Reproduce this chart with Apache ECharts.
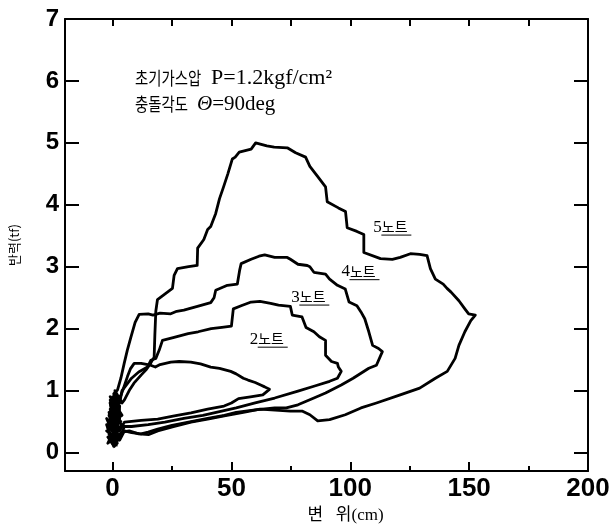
<!DOCTYPE html>
<html><head><meta charset="utf-8">
<script src="https://cdn.jsdelivr.net/npm/echarts@6/dist/echarts.min.js"></script>
<style>html,body{margin:0;padding:0;background:#fff}#c{width:613px;height:529px}</style>
</head><body><div id="c"></div>
<script>
// axis ticks
const xLabelVals = [0, 50, 100, 150, 200];
const xMajorTicks = [0, 50, 100, 150];
const xMinorTicks = [25, 75, 125, 175];
const xTopTicks = [0, 25, 50, 75, 100, 125, 150, 175];
const yLabelVals = [0, 1, 2, 3, 4, 5, 6, 7];
const yTicks = [0, 1, 2, 3, 4, 5, 6];

// 2노트
const c2x = [0.5,-1.5,1,-1,2,0.5,3.5,4.9,6.3,7.5,9.1,12,16,18,20,24.5,28,32.9,37,41.3,45,49.7,52,55,57,60,62.3,64,66,
  63.2,58,53,50,46.9,40,33,26,19,12,5,3,-2,4,-1,3,1.5];
const c2y = [0.1,0.3,0.25,0.55,0.6,0.8,0.92,1.07,1.23,1.35,1.44,1.44,1.41,1.38,1.42,1.46,1.47,1.46,1.43,1.38,1.36,1.31,1.27,1.2,1.17,1.13,1.09,1.06,1.02,
  0.93,0.9,0.87,0.8,0.75,0.7,0.64,0.59,0.54,0.52,0.49,0.35,0.45,0.6,0.9,0.75,0.1];
// 3노트
const c3x = [0.5,-2,1,-1.5,2,0,3,4,6,8,11,14.7,16.1,18.2,19.6,21,25.9,31.8,36,41.5,46,50,50.8,54.1,58.3,62,66.5,69.8,74.8,75.6,79.7,81.4,84.7,87,89.6,89.6,92.1,94.6,95,96.2,
  94.6,91.3,84.7,78,68.2,60,52,45,38,30,22,15,8,5,2.5,-2.5,3.5,-1,2,0];
const c3y = [0.15,0.4,0.35,0.65,0.55,0.9,0.8,1.0,1.1,1.2,1.3,1.38,1.49,1.52,1.65,1.81,1.86,1.92,1.95,2.0,2.02,2.04,2.32,2.37,2.43,2.44,2.41,2.38,2.36,2.22,2.19,2.02,1.95,1.87,1.81,1.57,1.47,1.44,1.38,1.31,
  1.2,1.15,1.07,0.99,0.88,0.8,0.72,0.66,0.6,0.55,0.49,0.45,0.42,0.42,0.2,0.35,0.5,0.7,0.3,0.15];
// 4노트
const c4x = [0,-2.5,1.5,-1,2,0.5,2.1,3.5,4.9,6.2,7.7,9.5,11.2,15,17,20,24.5,27,30,35.7,41.3,42.7,43.4,48.3,52.5,53.5,54.1,58.3,61.6,64,68.2,73.5,74.8,78,81.9,83,84.7,89.6,91.3,94.6,97.9,99.5,102.8,104.5,106.1,107.8,109.4,111.9,113.5,
  111,107.8,101.2,96.2,89.6,84.7,78,73.1,68.2,60,52,47,40,33,25,19,15,12,8,5,3,-1.5,4,-0.5,1];
const c4y = [0.2,0.45,0.3,0.8,0.65,0.95,1.01,1.2,1.44,1.65,1.86,2.1,2.23,2.24,2.22,2.25,2.24,2.28,2.3,2.36,2.42,2.5,2.62,2.7,2.72,2.95,3.05,3.12,3.17,3.19,3.15,3.15,3.12,3.04,3.02,3.0,2.91,2.88,2.8,2.7,2.64,2.43,2.37,2.27,2.16,1.95,1.73,1.68,1.63,
  1.41,1.36,1.2,1.09,0.96,0.88,0.77,0.72,0.72,0.69,0.65,0.6,0.55,0.5,0.44,0.38,0.33,0.3,0.32,0.35,0.2,0.6,0.45,0.25,0.1];
// 5노트
const c5x = [1,-2,2,-2.5,1.5,-1,3,1,4,5,7,9,12,14,16,17.5,17.8,18.2,18.9,21.7,25.2,25.9,27.3,32,35.6,35.8,38.4,40,41.3,43.4,45,46.7,48.5,50.4,51.6,53.3,58.3,60.2,64.9,68,73.5,77,81.2,83,86,89.6,90.3,95,98,98.7,102.8,105.7,105.7,112.7,117.7,121,125.3,129.2,132.3,133.7,135.8,139.1,140.7,142.4,145.7,148.2,149.8,152.6,
  150.7,148.2,145.7,144.1,140.8,135.8,129.2,121,111,104.5,97.9,91.3,86.3,83,79.7,74.8,70,62,55,47,40,33,26,19,15.3,11,7,4,-2,3,-1,2,0.5];
const c5y = [0.08,0.25,0.15,0.55,0.4,0.8,0.65,1.0,0.8,0.85,1.0,1.12,1.25,1.33,1.44,1.54,1.9,2.28,2.47,2.55,2.65,2.86,2.97,3.0,3.02,3.3,3.44,3.6,3.65,3.86,4.1,4.29,4.5,4.74,4.77,4.85,4.9,5.0,4.95,4.93,4.92,4.84,4.77,4.62,4.47,4.29,4.05,3.95,3.89,3.63,3.57,3.52,3.23,3.13,3.12,3.15,3.21,3.2,3.18,2.97,2.8,2.72,2.65,2.59,2.45,2.32,2.24,2.22,
  2.13,1.95,1.73,1.52,1.31,1.2,1.04,0.93,0.8,0.72,0.61,0.53,0.51,0.61,0.67,0.67,0.68,0.7,0.65,0.59,0.54,0.49,0.42,0.35,0.29,0.3,0.35,0.33,0.15,0.55,0.85,0.4,0.08];

// curve annotations
const noteNum = ['2', '3', '4', '5'];
const noteX = [65.7, 83.2, 104.3, 117.7];
const noteY = [1.83, 2.51, 2.92, 3.64];

const curvesX = [c2x, c3x, c4x, c5x];
const curvesY = [c2y, c3y, c4y, c5y];

const chart = echarts.init(document.getElementById('c'), null, {renderer: 'canvas'});
const black = '#000';
const series = curvesX.map((xs, k) => ({
  type: 'line',
  name: noteNum[k] + '노트',
  data: xs.map((x, i) => [x, curvesY[k][i]]),
  showSymbol: false,
  smooth: false,
  lineStyle: {color: black, width: 2.8, join: 'round'},
  animation: false
}));

const tickFont = {color: black, fontFamily: 'Liberation Sans', fontWeight: 'bold'};
const axLine = {show: true, onZero: false, lineStyle: {color: black, width: 2}};
chart.setOption({
  animation: false,
  backgroundColor: '#fff',
  grid: {left: 64, right: 25, top: 19, bottom: 50},
  xAxis: [
    {type: 'value', min: -20, max: 200, position: 'bottom',
     axisLine: axLine,
     axisTick: {show: true, inside: true, length: 9, customValues: xMajorTicks, lineStyle: {color: black, width: 2}},
     axisLabel: {customValues: xLabelVals, margin: 5, fontSize: 26, ...tickFont},
     splitLine: {show: false},
     name: '변   위(cm)', nameLocation: 'middle', nameGap: 30,
     nameTextStyle: {color: black, fontSize: 17, fontFamily: '"Liberation Serif", "Noto Sans CJK KR"', padding: [0, 0, 0, 38]}},
    {type: 'value', min: -20, max: 200, position: 'bottom',
     axisLine: {show: false, onZero: false},
     axisTick: {show: true, inside: true, length: 5, customValues: xMinorTicks, lineStyle: {color: black, width: 2}},
     axisLabel: {show: false}, splitLine: {show: false}},
    {type: 'value', min: -20, max: 200, position: 'top',
     axisLine: axLine,
     axisTick: {show: true, inside: true, length: 7, customValues: xTopTicks, lineStyle: {color: black, width: 2}},
     axisLabel: {show: false}, splitLine: {show: false}}
  ],
  yAxis: [
    {type: 'value', min: -0.3, max: 7, position: 'left',
     axisLine: axLine,
     axisTick: {show: true, inside: true, length: 14, customValues: yTicks, lineStyle: {color: black, width: 2}},
     axisLabel: {customValues: yLabelVals, margin: 6, fontSize: 24, ...tickFont},
     splitLine: {show: false},
     name: '반력(tf)', nameLocation: 'middle', nameRotate: 90, nameGap: 44,
     nameTextStyle: {color: black, fontSize: 13, fontFamily: '"Noto Sans CJK KR"'}},
    {type: 'value', min: -0.3, max: 7, position: 'right',
     axisLine: axLine,
     axisTick: {show: true, inside: true, length: 14, customValues: yTicks, lineStyle: {color: black, width: 2}},
     axisLabel: {show: false}, splitLine: {show: false}}
  ],
  series: series
});

// text annotations
const gfx = [
  {type: 'text', x: 135, y: 78, scaleX: 0.8, style: {text: '초기가스압', fontSize: 18, fontFamily: '"Noto Sans CJK KR"', fill: black, verticalAlign: 'middle'}},
  {type: 'text', x: 211, y: 78, style: {text: 'P=1.2kgf/cm²', fontSize: 22, fontFamily: '"Liberation Serif"', fill: black, verticalAlign: 'middle'}},
  {type: 'text', x: 135, y: 104, scaleX: 0.8, style: {text: '충돌각도', fontSize: 18, fontFamily: '"Noto Sans CJK KR"', fill: black, verticalAlign: 'middle'}},
  {type: 'text', x: 197, y: 104, style: {text: '{i|Θ}=90deg', fontSize: 21, fontFamily: '"Liberation Serif"', fill: black, verticalAlign: 'middle',
     rich: {i: {fontStyle: 'italic', fontSize: 21, fontFamily: '"Liberation Serif"'}}}}
];
noteNum.forEach((n, i) => {
  const p = chart.convertToPixel({xAxisIndex: 0, yAxisIndex: 0}, [noteX[i], noteY[i]]);
  gfx.push({type: 'text', x: p[0] - 19, y: p[1], style: {
    text: '{d|' + n + '}{k|노트}', fill: black, verticalAlign: 'middle', align: 'left',
    rich: {d: {fontFamily: '"Liberation Serif"', fontSize: 17, fill: black},
           k: {fontFamily: '"Noto Sans CJK KR"', fontSize: 14, fill: black}}}});
  gfx.push({type: 'line', shape: {x1: p[0] - 11, y1: p[1] + 8, x2: p[0] + 19, y2: p[1] + 8},
    style: {stroke: black, lineWidth: 1}});
});
chart.setOption({graphic: gfx});
</script>
</body></html>
